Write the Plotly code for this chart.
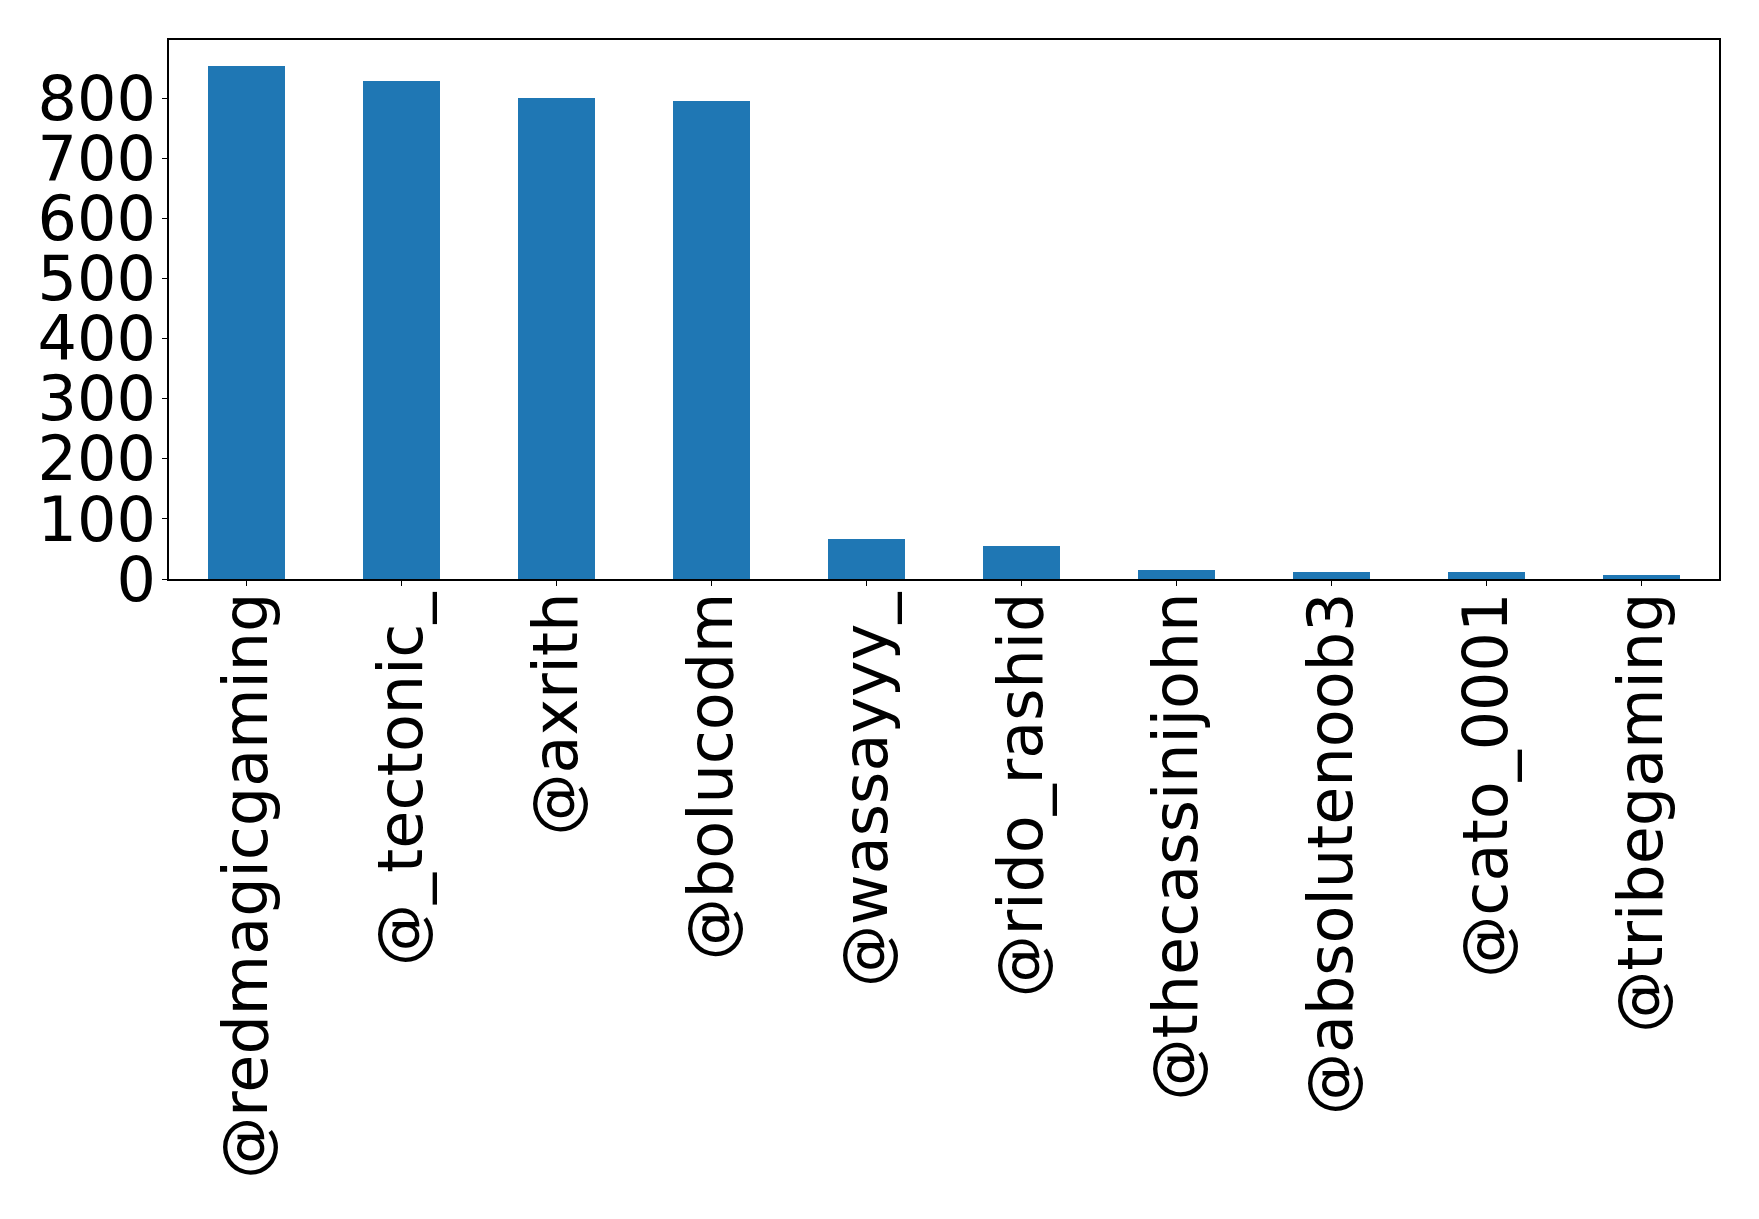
import plotly.graph_objects as go

categories = ["@redmagicgaming", "@_tectonic_", "@axrith", "@bolucodm", "@wassayyy_",
              "@rido_rashid", "@thecassinijohn", "@absolutenoob3", "@cato_0001", "@tribegaming"]
values = [854, 829, 800, 796, 67, 55, 15, 12, 12, 7]
y_ticks = [0, 100, 200, 300, 400, 500, 600, 700, 800]

W, H = 1759, 1219
OFF = 8  # default page body margin
left, right, top, bottom = 169.4, 1718.6, 40.3, 579.1

fig = go.Figure(go.Bar(
    x=list(range(len(categories))), y=values, width=0.5,
    marker=dict(color="#1f77b4", line=dict(width=0)),
))
fig.update_layout(
    width=W, height=H,
    margin=dict(l=left - OFF, r=W - right + OFF, t=top - OFF, b=H - bottom + OFF, pad=0),
    paper_bgcolor="white", plot_bgcolor="white",
    font=dict(family="DejaVu Sans", size=62, color="black"),
    showlegend=False,
    bargap=0,
)
fig.update_xaxes(
    automargin=False,
    range=[-0.5, len(categories) - 0.5],
    tickmode="array", tickvals=list(range(len(categories))), ticktext=categories,
    tickangle=-90, ticks="outside", ticklen=5, tickwidth=1.2, tickcolor="black",
    ticklabelstandoff=-18,
    showline=True, linecolor="black", linewidth=1.5, mirror=True,
    showgrid=False, zeroline=False,
)
fig.update_yaxes(
    automargin=False,
    range=[0, max(values) * 1.05],
    tickmode="array", tickvals=y_ticks, ticktext=[str(v) for v in y_ticks],
    ticks="outside", ticklen=5, tickwidth=1.2, tickcolor="black",
    ticklabelstandoff=-6,
    showline=True, linecolor="black", linewidth=1.5, mirror=True,
    showgrid=False, zeroline=False,
)
fig.write_html("out.html")
